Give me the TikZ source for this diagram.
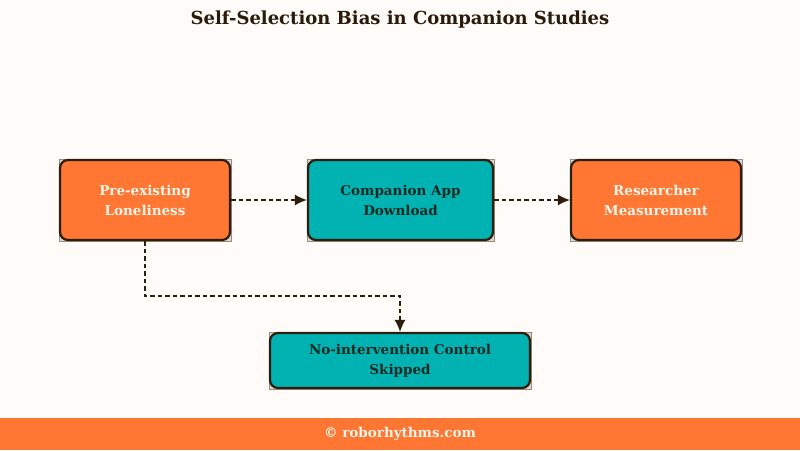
\documentclass[tikz,border=0pt]{standalone}
\usepackage{fontspec}
\setmainfont{DejaVu Serif}
\usetikzlibrary{arrows.meta}
\definecolor{bgc}{HTML}{FFFBF8}
\definecolor{orangec}{HTML}{FF7733}
\definecolor{tealc}{HTML}{00B2B2}
\definecolor{borderc}{HTML}{2E1C0C}
\definecolor{titlec}{HTML}{2A1A0A}
\definecolor{darktext}{HTML}{102A22}
\definecolor{lighttext}{HTML}{FFF4EA}
\definecolor{cornerc}{HTML}{9A8A7A}
\pgfdeclarelayer{bglayer}
\pgfdeclarelayer{midlayer}
\pgfsetlayers{bglayer,midlayer,main}
\tikzset{
  box/.style={draw=borderc, line width=2.2pt, rounded corners=8pt, minimum width=170pt, minimum height=80pt, align=center, font=\bfseries\fontsize{13.5}{20}\selectfont, inner sep=2pt},
  orangebox/.style={box, fill=orangec, text=lighttext},
  tealbox/.style={box, fill=tealc, text=darktext},
  flow/.style={draw=borderc, line width=1.4pt, dash pattern=on 4.5pt off 3pt, -{Latex[length=12pt,width=11pt]}},
  cornerrect/.style={draw=cornerc, line width=0.8pt, fill=cornerc!35}
}
\begin{document}
\begin{tikzpicture}[x=1pt,y=-1pt]
\begin{pgfonlayer}{bglayer}
\fill[bgc] (0,0) rectangle (800,450);
\end{pgfonlayer}
\useasboundingbox (0,0) rectangle (800,450);
\node[text=titlec, font=\bfseries\fontsize{18}{21}\selectfont] (title) at (400,20) {Self-Selection Bias in Companion Studies};
\node[orangebox] (a) at (145,200) {Pre-existing\\Loneliness};
\node[tealbox, minimum width=185pt] (b) at (400.5,200) {Companion App\\Download};
\node[orangebox] (c) at (656,200) {Researcher\\Measurement};
\node[tealbox, minimum width=260pt, minimum height=55pt] (d) at (400,360.5) {No-intervention Control\\Skipped};
\begin{pgfonlayer}{midlayer}
\foreach \n in {a,b,c,d}{
  \draw[cornerrect] (\n.south west) rectangle (\n.north east);
}
\end{pgfonlayer}
\draw[flow] (a.east) -- (b.west);
\draw[flow] (b.east) -- (c.west);
\draw[flow] (a.south) -- ++(0,55) -| (d.north);
\fill[orangec] (0,418) rectangle (800,450);
\node[text=lighttext, font=\bfseries\fontsize{13.5}{16}\selectfont] (foot) at (400,434) {© roborhythms.com};
\end{tikzpicture}
\end{document}
